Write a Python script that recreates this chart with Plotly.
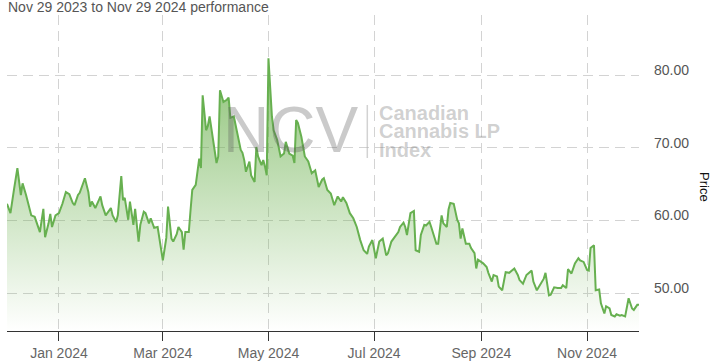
import pandas as pd
import plotly.graph_objects as go

# Days since 2024-01-01 for each reading, and the index level read at that day
day_offset = [
    -30, -28, -26, -25, -24, -22, -21, -19, -18, -16,
    -14, -13, -11, -9, -8, -6, -5, -4, -2, 0,
    2, 4, 6, 8, 9, 11, 12, 15, 17, 18,
    19, 21, 24, 25, 27, 30, 31, 33, 34, 36,
    37, 38, 40, 41, 43, 44, 46, 47, 49, 50,
    52, 53, 55, 57, 58, 60, 62, 63, 65, 66,
    68, 69, 71, 72, 73, 75, 76, 77, 79, 80,
    81, 82, 83, 85, 86, 87, 89, 91, 92, 93,
    95, 97, 98, 99, 101, 103, 105, 106, 107, 108,
    110, 111, 113, 114, 115, 117, 118, 119, 120, 121,
    123, 124, 126, 128, 130, 131, 133, 135, 136, 137,
    138, 140, 142, 144, 146, 148, 150, 152, 153, 155,
    157, 159, 161, 163, 164, 166, 168, 170, 172, 174,
    176, 178, 179, 181, 183, 185, 187, 189, 190, 192,
    194, 196, 197, 199, 200, 201, 203, 205, 206, 208,
    209, 211, 212, 214, 215, 216, 218, 219, 221, 222,
    224, 225, 226, 228, 230, 231, 232, 233, 235, 237,
    238, 240, 241, 242, 245, 247, 248, 250, 251,
    253, 254, 256, 258, 260, 263, 265, 266, 268, 270,
    273, 274, 276, 278, 280, 281, 283, 284, 286, 288,
    290, 291, 293, 294, 296, 298, 300, 301, 303, 305,
    306, 307, 309, 310, 312, 313, 315, 316, 318, 319,
    321, 322, 324, 325, 327, 329, 331, 332, 334, 335,
]

price = [
    62.3, 61.0, 64.2, 65.6, 67.2, 63.5, 65.1, 63.5, 62.5, 60.7,
    60.5, 59.8, 58.4, 61.6, 57.7, 59.6, 60.9, 59.1, 60.7, 61.0,
    62.3, 63.9, 63.6, 62.4, 62.1, 63.5, 63.8, 65.8, 63.9, 61.9,
    62.6, 61.7, 63.3, 62.1, 60.7, 61.7, 60.7, 59.8, 60.7, 66.1,
    62.8, 63.1, 60.1, 62.6, 59.4, 61.6, 57.1, 59.4, 61.2, 61.0,
    59.6, 60.3, 59.0, 59.1, 57.6, 54.5, 57.6, 61.9, 57.5, 57.1,
    58.1, 59.1, 58.4, 56.0, 58.4, 58.4, 61.4, 64.2, 64.9, 67.2,
    68.5, 67.2, 77.2, 72.4, 73.0, 74.3, 71.1, 67.9, 68.8, 77.9,
    76.3, 76.6, 76.9, 74.1, 74.3, 72.0, 69.7, 69.3, 68.3, 66.7,
    68.1, 66.2, 65.3, 70.1, 68.8, 67.6, 68.3, 67.4, 66.2, 82.3,
    74.3, 72.4, 71.1, 68.8, 69.2, 70.8, 69.2, 68.9, 67.9, 73.8,
    73.4, 71.5, 68.8, 68.1, 66.5, 66.9, 64.6, 65.6, 65.8, 64.2,
    63.7, 62.1, 63.3, 62.6, 63.2, 62.4, 61.0, 60.3, 59.1, 57.3,
    55.9, 55.4, 56.4, 57.3, 54.8, 57.1, 57.5, 55.2, 55.5, 57.1,
    57.8, 58.4, 59.1, 59.7, 59.1, 58.0, 61.0, 61.3, 55.9, 55.7,
    58.0, 59.4, 59.3, 59.8, 59.1, 58.4, 56.8, 56.8, 60.7, 59.6,
    59.1, 61.5, 62.4, 62.3, 60.1, 59.6, 57.5, 58.9, 56.8, 56.8,
    56.2, 55.5, 53.4, 54.6, 54.1, 53.6, 52.8, 51.6, 52.5,
    52.3, 50.9, 50.4, 52.9, 52.8, 53.4, 52.5, 51.8, 51.3, 52.5,
    53.1, 51.6, 50.4, 51.3, 52.0, 52.8, 49.7, 49.8, 50.8, 50.7,
    50.7, 51.1, 50.7, 53.3, 52.7, 54.1, 54.8, 54.5, 54.3, 53.2,
    53.1, 56.2, 56.6, 50.4, 50.5, 48.6, 47.2, 48.2, 47.9, 47.0,
    46.8, 47.1, 46.9, 47.0, 46.8, 49.3, 47.9, 47.7, 48.4, 48.4,
]

y_ticks = [50, 60, 70, 80]
title_text = "Nov 29 2023 to Nov 29 2024 performance"
watermark_big = "NCV"
watermark_lines = ["Canadian", "Cannabis LP", "Index"]

dates = pd.Timestamp("2024-01-01") + pd.to_timedelta(day_offset, unit="D")

FONT = "Liberation Sans, Arial, sans-serif"
W, H = 717, 361
ML, MR, MT, MB = 7, 78, 15, 30
PW, PH = W - ML - MR, H - MT - MB


def px(x):
    return (x - ML) / PW


def py(y):
    return (H - MB - y) / PH


fig = go.Figure()
fig.add_trace(go.Scatter(
    x=dates, y=price, mode="lines",
    line=dict(color="rgb(103,176,80)", width=2),
    fill="tozeroy",
    fillgradient=dict(
        type="vertical",
        colorscale=[[0, "rgba(106,176,76,0.0)"], [1, "rgba(106,176,76,0.75)"]],
        start=44.8, stop=82,
    ),
    hoverinfo="skip",
))

annotations = [
    dict(text=title_text, xref="paper", yref="paper", x=px(5.5), y=py(7),
         xanchor="left", yanchor="middle", showarrow=False,
         font=dict(family=FONT, size=14, color="#555555")),
    dict(text="Price", xref="paper", yref="paper", x=px(705), y=py(187),
         xanchor="center", yanchor="middle", showarrow=False, textangle=90,
         font=dict(family=FONT, size=13, color="#111111")),
    dict(text=watermark_big, xref="paper", yref="paper", x=px(290), y=py(130),
         xanchor="center", yanchor="middle", showarrow=False,
         font=dict(family=FONT, size=64, color="rgba(90,90,90,0.32)")),
]
for i, line in enumerate(watermark_lines):
    annotations.append(dict(
        text="<b>%s</b>" % line, xref="paper", yref="paper",
        x=px(377), y=py(112.5 + 18.5 * i), xanchor="left", yanchor="middle",
        showarrow=False,
        font=dict(family=FONT, size=20, color="rgba(110,110,110,0.33)")))

fig.update_layout(
    width=W, height=H,
    margin=dict(l=ML, r=MR, t=MT, b=MB, autoexpand=False),
    paper_bgcolor="white", plot_bgcolor="white",
    showlegend=False,
    annotations=annotations,
    shapes=[dict(type="line", xref="paper", yref="paper",
                 x0=px(367.3), x1=px(367.3), y0=py(105), y1=py(158),
                 line=dict(color="rgba(180,180,180,0.6)", width=1.5))],
    font=dict(family=FONT),
)
fig.update_xaxes(
    type="date", range=[dates[0], dates[-1]], automargin=False,
    tick0="2024-01-01", dtick="M2", tickformat="%b %Y",
    showgrid=True, gridcolor="#d3d3d3", gridwidth=1, griddash="10px,6px",
    showline=True, linecolor="#333333", linewidth=1,
    ticks="outside", ticklen=9, tickcolor="#333333", tickwidth=1,
    tickfont=dict(family=FONT, size=14, color="#666666"),
    zeroline=False,
)
fig.update_yaxes(
    side="right", range=[44.8, 88.25], automargin=False,
    tickvals=y_ticks, tickformat=".2f",
    showgrid=True, gridcolor="#d3d3d3", gridwidth=1, griddash="10px,6px",
    showline=False, zeroline=False, ticks="",
    ticklabelstandoff=14, ticklabelshift=-5,
    tickfont=dict(family=FONT, size=14, color="#555555"),
)

fig.write_html(
    "out.html",
    config={"displayModeBar": False},
    post_script="document.body.style.margin='0';document.body.style.overflow='hidden';",
)
